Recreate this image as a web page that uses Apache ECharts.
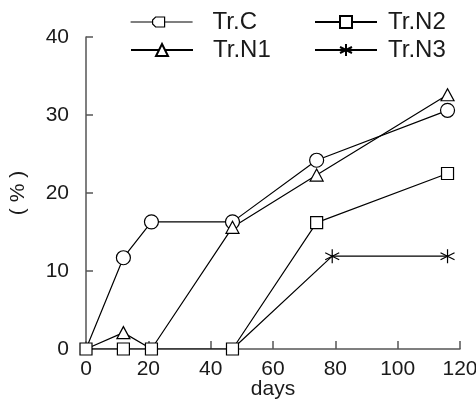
<!DOCTYPE html>
<html>
<head>
<meta charset="utf-8">
<script src="https://cdn.jsdelivr.net/npm/echarts@6/dist/echarts.min.js"></script>
<style>
  html, body { margin: 0; padding: 0; background: #fff; }
  #chart { width: 476px; height: 401px; }
</style>
</head>
<body>
<div id="chart"></div>
<script>
// Sampling days and measured percentages per treatment
const daysC  = [0, 12, 21, 47, 74, 116];
const valsC  = [0, 11.7, 16.3, 16.3, 24.2, 30.6];
const daysN1 = [0, 12, 21, 47, 74, 116];
const valsN1 = [0, 2.1, 0, 15.6, 22.3, 32.6];
const daysN2 = [0, 12, 21, 47, 74, 116];
const valsN2 = [0, 0, 0, 0, 16.2, 22.5];
const daysN3 = [47, 79, 116];
const valsN3 = [0, 11.9, 11.9];

const xTicks = { min: 0, max: 120, interval: 20 };
const yTicks = { min: 0, max: 40, interval: 10 };

// points that sit under the square markers at the origin / baseline
const hiddenC  = [0];
const hiddenN1 = [0, 2];
const hiddenN3 = [0];

const FONT = 'Liberation Sans, Arial, sans-serif';
const asterisk = 'path://M7,0L7,14M0,3.5L14,10.5M0,10.5L14,3.5';
// legend glyph: line with a notched tag marker, drawn in a 62x15 box
const tagIcon = 'path://M0,0M62,15M0,7.5L22,7.5M25,2.5L34,2.5L34,12.5L25,12.5L22,9.5L22,5.5ZM34,7.5L62,7.5';

function pts(xs, ys, hidden) {
  return xs.map((x, i) => hidden && hidden.includes(i)
    ? { value: [x, ys[i]], symbol: 'none' }
    : [x, ys[i]]);
}

function lineSeries(name, data, symbol, size) {
  return {
    name, type: 'line', data, symbol, symbolSize: size,
    lineStyle: { color: '#000', width: 1.2 },
    itemStyle: { color: '#fff', borderColor: '#000', borderWidth: 1.2 },
    emphasis: { disabled: true },
    animation: false
  };
}

function legendAt(name, left, top, gap, icon) {
  const item = { name };
  if (icon) {
    item.icon = icon;
    item.itemStyle = { color: '#fff', borderColor: '#000', borderWidth: 1.2 };
  }
  return {
    data: [item], left, top, itemWidth: 62, itemHeight: 15,
    padding: 0,
    selectedMode: false,
    textStyle: { fontFamily: FONT, fontSize: 24, color: '#1a1a1a', padding: [0, 0, 0, gap] }
  };
}

const chart = echarts.init(document.getElementById('chart'), null, { renderer: 'canvas' });
chart.setOption({
  backgroundColor: '#fff',
  grid: { left: 86, right: 16, top: 37, bottom: 52, containLabel: false, outerBoundsMode: 'none' },
  legend: [
    legendAt('Tr.C', 130, 10, 15, tagIcon),
    legendAt('Tr.N1', 130, 38, 15),
    legendAt('Tr.N2', 314, 10, 6),
    legendAt('Tr.N3', 314, 38, 6)
  ],
  xAxis: {
    type: 'value', ...xTicks,
    name: 'days', nameLocation: 'middle', nameGap: 30, nameMoveOverlap: false,
    nameTextStyle: { fontFamily: FONT, fontSize: 21, color: '#1a1a1a' },
    axisLine: { lineStyle: { color: '#555', width: 1.5 } },
    axisTick: { inside: true, length: 8, lineStyle: { color: '#555', width: 1.5 } },
    axisLabel: { fontFamily: FONT, fontSize: 21, color: '#1a1a1a', margin: 10 },
    splitLine: { show: false }
  },
  yAxis: {
    type: 'value', ...yTicks,
    name: '( % )', nameLocation: 'middle', nameGap: 57, nameRotate: 90, nameMoveOverlap: false,
    nameTextStyle: { fontFamily: FONT, fontSize: 21, color: '#1a1a1a' },
    axisLine: { show: true, lineStyle: { color: '#555', width: 1.5 } },
    axisTick: { show: true, inside: true, length: 7, lineStyle: { color: '#555', width: 1.5 } },
    axisLabel: { fontFamily: FONT, fontSize: 21, color: '#1a1a1a', margin: 17 },
    splitLine: { show: false }
  },
  series: [
    lineSeries('Tr.C', pts(daysC, valsC, hiddenC), 'circle', 14),
    lineSeries('Tr.N1', pts(daysN1, valsN1, hiddenN1), 'triangle', [13, 12]),
    lineSeries('Tr.N3', pts(daysN3, valsN3, hiddenN3), asterisk, 14),
    lineSeries('Tr.N2', pts(daysN2, valsN2), 'rect', 12)
  ]
});
</script>
</body>
</html>
